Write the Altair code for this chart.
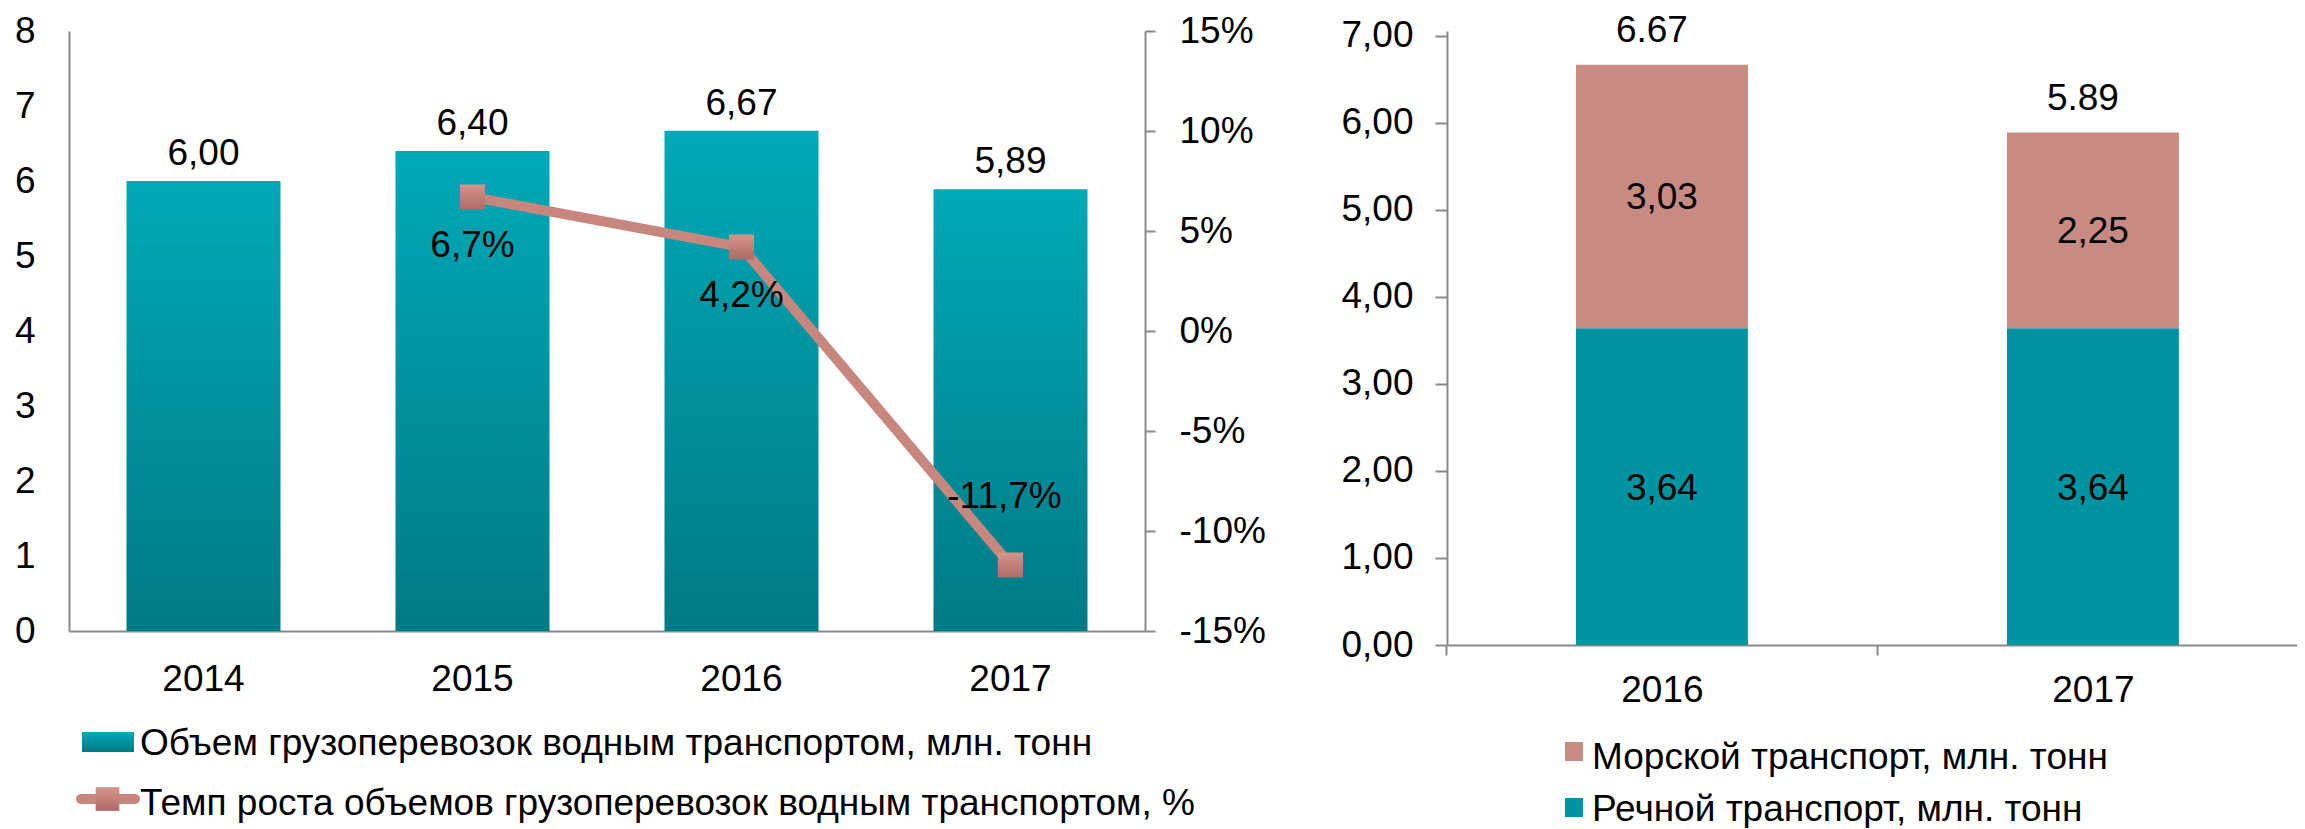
import altair as alt
import pandas as pd

FONT = "Arial, Liberation Sans, sans-serif"

# ---- data ----
years = ["2014", "2015", "2016", "2017"]
volume = [6.00, 6.40, 6.67, 5.89]

growth_years = ["2015", "2016", "2017"]
growth = [6.7, 4.2, -11.7]

split_years = ["2016", "2017"]
river = [3.64, 3.64]
sea = [3.03, 2.25]

left_ticks = [0, 1, 2, 3, 4, 5, 6, 7, 8]
pct_ticks = [-15, -10, -5, 0, 5, 10, 15]
right_ticks = [0, 1, 2, 3, 4, 5, 6, 7]

left_legend = [
    "Объем грузоперевозок водным транспортом, млн. тонн",
    "Темп роста объемов грузоперевозок водным транспортом, %",
]
right_legend = ["Морской транспорт, млн. тонн", "Речной транспорт, млн. тонн"]

# ---- colours ----
GRAY = "#898989"
TEAL_TOP = "#00A9B8"
TEAL_BOT = "#007A84"
RIVER = "#0094A1"
SEA = "#C88B84"
LINE = "#C7867E"

bar_grad = alt.Gradient(
    gradient="linear",
    stops=[alt.GradientStop(color=TEAL_TOP, offset=0), alt.GradientStop(color=TEAL_BOT, offset=1)],
    x1=0, x2=0, y1=0, y2=1,
)
marker_grad = alt.Gradient(
    gradient="linear",
    stops=[alt.GradientStop(color="#D5948C", offset=0), alt.GradientStop(color="#AE6B67", offset=1)],
    x1=0, x2=0, y1=0, y2=1,
)

df_vol = pd.DataFrame({"year": years, "volume": volume})
df_gr = pd.DataFrame({"year": growth_years, "growth": growth})

x_left = alt.X(
    "year:N",
    scale=alt.Scale(domain=years, paddingInner=0.4275, paddingOuter=0.21375),
    axis=alt.Axis(title=None, labelAngle=0, ticks=False, labelPadding=30),
)

y_vol = alt.Y(
    "volume:Q",
    scale=alt.Scale(domain=[0, 8], nice=False),
    axis=alt.Axis(title=None, values=left_ticks, ticks=False, labelPadding=34, orient="left"),
)

bars = alt.Chart(df_vol).mark_bar(fill=bar_grad).encode(x=x_left, y=y_vol)
bar_text = (
    alt.Chart(df_vol)
    .transform_calculate(lab="replace(format(datum.volume, '.2f'), '.', ',')")
    .mark_text(baseline="alphabetic", dy=-16)
    .encode(x=x_left, y=y_vol, text="lab:N")
)

# manual legend (left)
leg1 = pd.DataFrame({"label": [left_legend[0]]})
leg2 = pd.DataFrame({"label": [left_legend[1]]})
leg_rect = alt.Chart(leg1).mark_rect(fill=bar_grad).encode(
    x=alt.value(13), x2=alt.value(65), y=alt.value(701), y2=alt.value(721)
)
leg_text1 = alt.Chart(leg1).mark_text(align="left", baseline="alphabetic").encode(
    x=alt.value(71), y=alt.value(724), text="label:N"
)
leg_line = alt.Chart(leg2).mark_rule(color=LINE, strokeWidth=10, strokeCap="round").encode(
    x=alt.value(12), x2=alt.value(66), y=alt.value(768)
)
leg_sq = alt.Chart(leg2).mark_square(size=560, fill=marker_grad, opacity=1).encode(
    x=alt.value(38.5), y=alt.value(768)
)
leg_text2 = alt.Chart(leg2).mark_text(align="left", baseline="alphabetic").encode(
    x=alt.value(71), y=alt.value(784), text="label:N"
)

vol_layer = alt.layer(bars, bar_text, leg_rect, leg_text1, leg_line, leg_sq, leg_text2)

y_gr = alt.Y(
    "growth:Q",
    scale=alt.Scale(domain=[-15, 15], nice=False),
    axis=alt.Axis(
        title=None, values=pct_ticks, orient="right", tickSize=10,
        labelPadding=24, labelExpr="datum.value + '%'",
    ),
)
line = alt.Chart(df_gr).mark_line(color=LINE, strokeWidth=10).encode(x=x_left, y=y_gr)
pts = alt.Chart(df_gr).mark_square(size=625, fill=marker_grad, opacity=1).encode(x=x_left, y=y_gr)
gr_lab = "replace(replace(format(datum.growth, '.1f'), '.', ','), '\u2212', '-') + '%'"
gr_text_pos = (
    alt.Chart(df_gr)
    .transform_filter("datum.growth >= 0")
    .transform_calculate(lab=gr_lab)
    .mark_text(baseline="alphabetic", dy=60)
    .encode(x=x_left, y=y_gr, text="lab:N")
)
gr_text_neg = (
    alt.Chart(df_gr)
    .transform_filter("datum.growth < 0")
    .transform_calculate(lab=gr_lab)
    .mark_text(baseline="alphabetic", dy=-57, dx=-6)
    .encode(x=x_left, y=y_gr, text="lab:N")
)
gr_layer = alt.layer(line, pts, gr_text_pos, gr_text_neg)

left = (
    alt.layer(vol_layer, gr_layer)
    .resolve_scale(y="independent")
    .properties(width=1076, height=600)
)

# ---- right chart ----
rows = []
for i, yr in enumerate(split_years):
    rows.append({"year": yr, "type": "river", "value": river[i], "ord": 0})
    rows.append({"year": yr, "type": "sea", "value": sea[i], "ord": 1})
df_split = pd.DataFrame(rows)

x_right = alt.X(
    "year:N",
    scale=alt.Scale(domain=split_years, paddingInner=0.601, paddingOuter=0.2866, align=0.522),
    axis=alt.Axis(title=None, labelAngle=0, tickSize=10, labelPadding=17,
                  tickOffset=-215.5, labelOffset=215.5),
)
right_dom = [0, 7.057]
y_right = alt.Y(
    "sum(value):Q",
    scale=alt.Scale(domain=right_dom, nice=False),
    axis=alt.Axis(title=None, values=right_ticks, tickSize=12, labelPadding=22,
                  labelExpr="replace(format(datum.value, '.2f'), '.', ',')"),
)

stack_bars = alt.Chart(df_split).mark_bar().encode(
    x=x_right,
    y=y_right,
    color=alt.Color("type:N", scale=alt.Scale(domain=["sea", "river"], range=[SEA, RIVER]), legend=None),
    order=alt.Order("ord:Q", sort="ascending"),
)
seg_text = (
    alt.Chart(df_split)
    .transform_stack(stack="value", groupby=["year"], as_=["v0", "v1"],
                     sort=[alt.SortField("ord", order="ascending")])
    .transform_calculate(mid="(datum.v0 + datum.v1) / 2",
                         lab="replace(format(datum.value, '.2f'), '.', ',')")
    .mark_text(baseline="alphabetic", dy=13)
    .encode(x=x_right, y=alt.Y("mid:Q", scale=alt.Scale(domain=right_dom, nice=False)), text="lab:N")
)
tot_text = alt.Chart(df_split).mark_text(baseline="alphabetic", dy=-23, dx=-10).encode(
    x=x_right, y="sum(value):Q", text=alt.Text("sum(value):Q", format=".2f")
)

rl1 = pd.DataFrame({"label": [right_legend[0]]})
rl2 = pd.DataFrame({"label": [right_legend[1]]})
r_rect1 = alt.Chart(rl1).mark_rect(fill=SEA).encode(
    x=alt.value(118), x2=alt.value(136), y=alt.value(711), y2=alt.value(730)
)
r_text1 = alt.Chart(rl1).mark_text(align="left", baseline="alphabetic").encode(
    x=alt.value(145), y=alt.value(738), text="label:N"
)
r_rect2 = alt.Chart(rl2).mark_rect(fill=RIVER).encode(
    x=alt.value(118), x2=alt.value(136), y=alt.value(767), y2=alt.value(786)
)
r_text2 = alt.Chart(rl2).mark_text(align="left", baseline="alphabetic").encode(
    x=alt.value(145), y=alt.value(790), text="label:N"
)

right = alt.layer(stack_bars, seg_text, tot_text, r_rect1, r_text1, r_rect2, r_text2).properties(
    width=850, height=614
)

chart = (
    alt.hconcat(left, right, spacing=302, bounds="flush")
    .properties(padding={"left": 6, "top": 3, "right": 0, "bottom": 0})
    .configure_view(stroke=None)
    .configure_axis(
        labelFont=FONT, labelFontSize=37, labelColor="black",
        domainColor=GRAY, domainWidth=2, tickColor=GRAY, tickWidth=2, grid=False,
    )
    .configure_text(font=FONT, fontSize=37, color="black")
)

chart.save("out.html", embed_options={"renderer": "svg", "actions": False})
